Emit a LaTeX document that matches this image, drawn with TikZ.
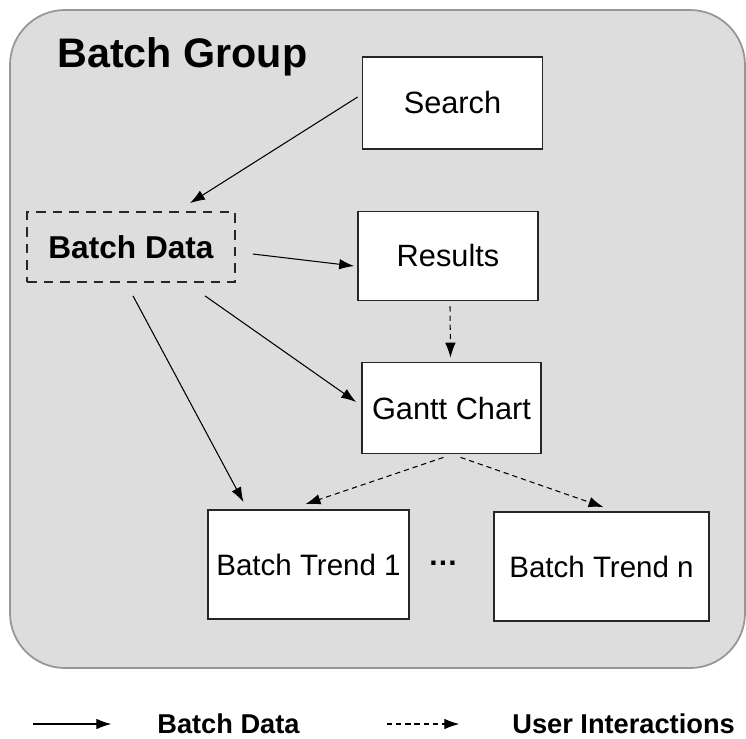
\documentclass[tikz,border=0pt]{standalone}
\usepackage{fontspec}
\setmainfont{Liberation Sans}
\usetikzlibrary{arrows.meta}
\definecolor{groupfill}{RGB}{221,221,221}
\definecolor{groupline}{RGB}{150,150,150}

\begin{document}
\begin{tikzpicture}[x=0.02cm, y=-0.02cm,
                    box/.style={draw=black!85, fill=white, line width=1pt, inner sep=0pt,
                                font=\fontsize{17.5}{21}\selectfont},
                    trendbox/.style={box, minimum height=2.18cm, font=\fontsize{16.8}{20}\selectfont},
                    flow/.style={-{Latex[length=8.5pt,width=6pt]}, line width=0.6pt},
                    userflow/.style={flow, dash pattern=on 3pt off 2.2pt},
                    legendtext/.style={anchor=west, inner sep=0pt, font=\bfseries\fontsize{15.5}{18}\selectfont}]
                    \useasboundingbox (0,0) rectangle (746,738);
                    \filldraw[fill=groupfill, draw=groupline, line width=1pt, rounded corners=1.1cm]
                        (10,10) rectangle (745,668);
                    \node[anchor=base west, inner sep=0pt, font=\bfseries\fontsize{23.5}{28}\selectfont]
                        (title) at (57,67) {Batch Group};

                    \node[box, minimum width=3.6cm, minimum height=1.84cm] (search) at (452.5,103) {Search};
                    \node[box, minimum width=3.6cm, minimum height=1.78cm] (results) at (448,256) {Results};
                    \node[box, minimum width=3.58cm, minimum height=1.82cm] (gantt) at (451.5,408) {Gantt Chart};
                    \node[trendbox, minimum width=4.02cm] (trend1) at (308.5,564.5) {Batch Trend 1};
                    \node[trendbox, minimum width=4.3cm] (trendn) at (601.5,566.5) {Batch Trend n};
                    \node[draw=black!85, line width=1pt, dash pattern=on 5.5pt off 4pt, inner sep=0pt,
                          minimum width=4.16cm, minimum height=1.4cm,
                          font=\bfseries\fontsize{18}{21}\selectfont] (bdata) at (131,247) {Batch Data};
                    \node[inner sep=0pt, font=\bfseries\fontsize{17}{20}\selectfont] (dots) at (443,563) {\dots};

                    \draw[flow] ([shift={(-4,-6)}]search.west) -- ([shift={(59,-8)}]bdata.north);
                    \draw[flow] ([shift={(17,7)}]bdata.east) -- ([shift={(-3,10)}]results.west);
                    \draw[flow] ([shift={(74,13)}]bdata.south) -- ([shift={(-5,-6)}]gantt.west);
                    \draw[flow] ([shift={(2,13)}]bdata.south) -- ([shift={(-65,-7)}]trend1.north);
                    \draw[userflow] ([shift={(2,5)}]results.south) -- ([shift={(-1,-4)}]gantt.north);
                    \draw[userflow] ([shift={(-8,3)}]gantt.south) -- ([shift={(-3,-5)}]trend1.north);
                    \draw[userflow] ([shift={(9,3)}]gantt.south) -- ([shift={(2,-4)}]trendn.north);

                    \coordinate (key1) at (33,724);
                    \coordinate (key2) at (387,724);
                    \node[legendtext] (key1text) at (157,724) {Batch Data};
                    \node[legendtext] (key2text) at (512,724) {User Interactions};
                    \draw[flow] (key1) -- ([xshift=-26]key1text.west);
                    \draw[userflow] (key2) -- ([xshift=-30]key2text.west);
                \end{tikzpicture}
\end{document}
